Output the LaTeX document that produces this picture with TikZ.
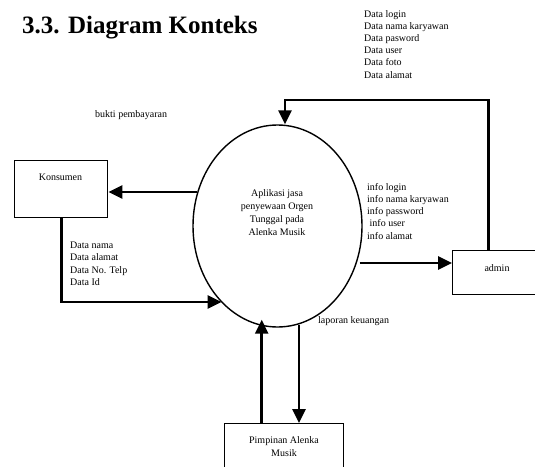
\documentclass[tikz,border=0pt]{standalone}
\usepackage{fontspec}
\setmainfont{Liberation Serif}
\usetikzlibrary{arrows.meta,shapes.geometric,calc}
\begin{document}
\begin{tikzpicture}[x=1pt,y=-1pt,
  flow/.style={line width=2.6pt,-{Triangle[length=14pt,width=13pt]}},
  box/.style={draw,line width=1.4pt,inner sep=0pt},
  lbl/.style={font=\fontsize{10}{12.2}\selectfont,inner sep=0pt,align=left,anchor=north west},
  clbl/.style={font=\fontsize{10}{13}\selectfont,inner sep=0pt,align=center},
]
\useasboundingbox (0,0) rectangle (535,466);
\clip (0,0) rectangle (535,466);

% title
\node[anchor=base west,inner sep=0pt,font=\fontsize{25}{30}\selectfont\bfseries] (title) at (22,33) {3.3. Diagram Konteks};

% process
\node[draw,ellipse,line width=1.4pt,minimum width=169pt,minimum height=202pt,inner sep=0pt] (app) at (277.5,226) {};
\node[clbl] (apptext) at (277,213) {Aplikasi jasa\\penyewaan Orgen\\Tunggal pada\\Alenka Musik};

% entities
\node[box,minimum width=93pt,minimum height=57pt,anchor=north west] (konsumen) at (14,160) {};
\node[clbl] (konsumenlbl) at (60.5,177) {Konsumen};

\node[box,minimum width=95pt,minimum height=44pt,anchor=north west] (admin) at (452,250) {};
\node[clbl] (adminlbl) at (497,268) {admin};

\node[box,minimum width=119pt,minimum height=60pt,anchor=north west] (pimpinan) at (224,423) {};
\node[clbl] (pimpinanlbl) at (284,446.5) {Pimpinan Alenka\\Musik};

% flows
\draw[flow] ($(app.west)+(5,-34)$) coordinate (a1) -- (konsumen.east |- a1);
\draw[flow] (konsumen.south) |- ($(app.center)+(-56,76)$);
\draw[flow] ($(app.east)+(-3,37)$) coordinate (a3) -- (admin.west |- a3);
\coordinate (corner) at (285,100);
\draw[flow] ([xshift=-11.5pt]admin.north) |- (corner) -- (app.north -| corner);
\draw[flow] ([xshift=-22.5pt]pimpinan.north) coordinate (p1) -- (p1 |- {$(app.south)+(0,-8)$});
\draw[flow] ($(app.south)+(21.5,-3)$) coordinate (p2) -- (pimpinan.north -| p2);

% labels
\node[lbl] (datatop) at (364,10) {Data login\\Data nama karyawan\\Data pasword\\Data user\\Data foto\\Data alamat};
\node[lbl] (bukti) at (95,110) {bukti pembayaran};
\node[lbl] (datak) at (70,242) {Data nama\\Data alamat\\Data No. Telp\\Data Id};
\node[lbl] (info) at (367,183) {info login\\info nama karyawan\\info password\\\hspace*{2.5pt}info user\\info alamat};
\node[lbl] (lap) at (318,316) {laporan keuangan};
\end{tikzpicture}
\end{document}
